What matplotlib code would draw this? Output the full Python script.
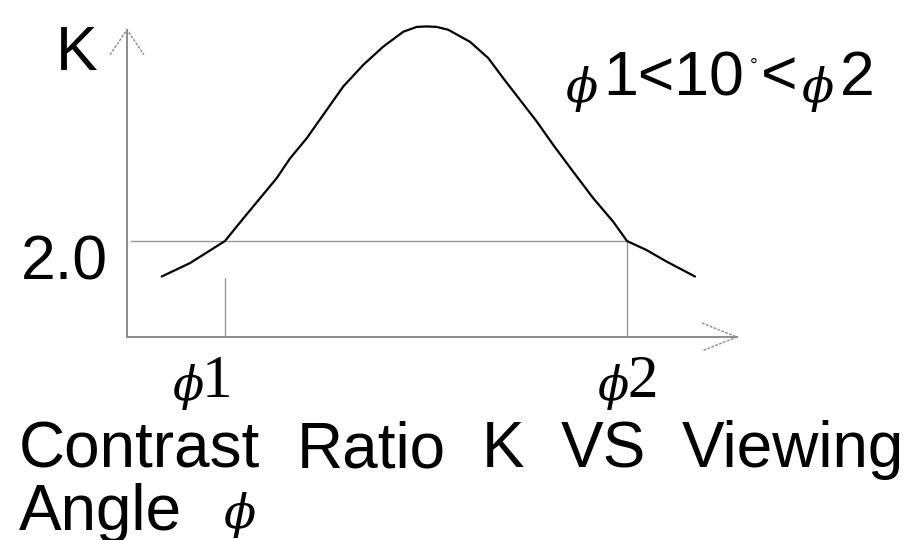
import numpy as np
import matplotlib
matplotlib.use("Agg")
import matplotlib.pyplot as plt

plt.rcParams['mathtext.fontset'] = 'dejavuserif'

# schematic curve: viewing angle (arbitrary units) vs contrast ratio K
angle = [3.47, 6.3, 9.8, 11.63, 13.3, 14.97, 16.3, 17.97, 19.63, 21.63,
         23.63, 25.63, 27.63, 28.97, 30.0, 30.97, 32.13, 34.3, 36.13, 37.63,
         39.3, 40.97, 42.63, 44.63, 46.63, 48.63, 50.0, 51.97, 53.97, 56.8]
contrast = [1.26, 1.54, 2.0, 2.47, 2.89, 3.31, 3.72, 4.14, 4.63, 5.22,
            5.67, 6.05, 6.36, 6.46, 6.47, 6.46, 6.40, 6.15, 5.81, 5.39,
            4.94, 4.49, 4.0, 3.44, 2.89, 2.40, 2.0, 1.81, 1.57, 1.26]
k_level = 2.0
phi1 = 9.8
phi2 = 50.0
x_end = 61.0
y_end = 6.4

W, H = 910, 540
fig = plt.figure(figsize=(W / 100, H / 100), dpi=100)
ax = fig.add_axes([127 / W, (H - 337) / H, 610 / W, 312 / H])
ax.set_xlim(0, 61)
ax.set_ylim(0, 6.5)
ax.axis('off')

gray = '#8c8c8c'
# axes with open arrow heads
ax.plot([0, x_end], [0, 0], color=gray, lw=1.4, clip_on=False)
ax.plot([0, 0], [0, y_end], color=gray, lw=1.4, clip_on=False)
ax.plot([-1.7, 0, 1.7], [y_end - 0.52, y_end, y_end - 0.52], color=gray, lw=1.0,
        ls=(0, (2, 1)), clip_on=False)
ax.plot([x_end - 3.5, x_end, x_end - 3.5], [0.29, 0, -0.29], color=gray, lw=1.0,
        ls=(0, (2, 1)), clip_on=False)

# guide lines
ax.plot([0.4, phi2], [k_level, k_level], color='#999999', lw=1.0)
ax.plot([phi1, phi1], [0, 1.23], color='#999999', lw=1.0)
ax.plot([phi2, phi2], [0, k_level], color='#999999', lw=1.0)

# the curve
ax.plot(angle, contrast, color='black', lw=1.6, solid_capstyle='round',
        solid_joinstyle='round', clip_on=False)


def ftext(x, y, s, **kw):
    fig.text(x / W, 1 - y / H, s, va='baseline', **kw)


sans = 'Liberation Sans'
serif = ['Liberation Serif', 'DejaVu Serif']

ftext(56, 70, 'K', fontsize=45, family=sans)
ftext(108, 280, '2.0', fontsize=45, family=sans, ha='right')

# top right note
ftext(565, 102, r'$\phi$', fontsize=34, family=serif)
ftext(603, 95, '1<10', fontsize=45, family=sans)
ftext(750, 71, '°', fontsize=14, family=sans)
ftext(761, 95, '<', fontsize=45, family=sans)
ftext(801, 102, r'$\phi$', fontsize=34, family=serif)
ftext(840, 95, '2', fontsize=45, family=sans)

# phi labels under the axis
for x, num in [(172, '1'), (597, '2')]:
    ftext(x, 400, r'$\phi$', fontsize=33, family=serif)
    ftext(x + 30, 397, num, fontsize=44, family=serif)

# caption
for word, x in [('Contrast', 19), ('Ratio', 297), ('K', 482), ('VS', 561), ('Viewing', 682)]:
    ftext(x, 467, word, fontsize=46, family=sans)
ftext(19, 530, 'Angle', fontsize=46, family=sans)
ftext(223, 528, r'$\phi$', fontsize=34, family=serif)

fig.savefig('out.png', dpi=100)
